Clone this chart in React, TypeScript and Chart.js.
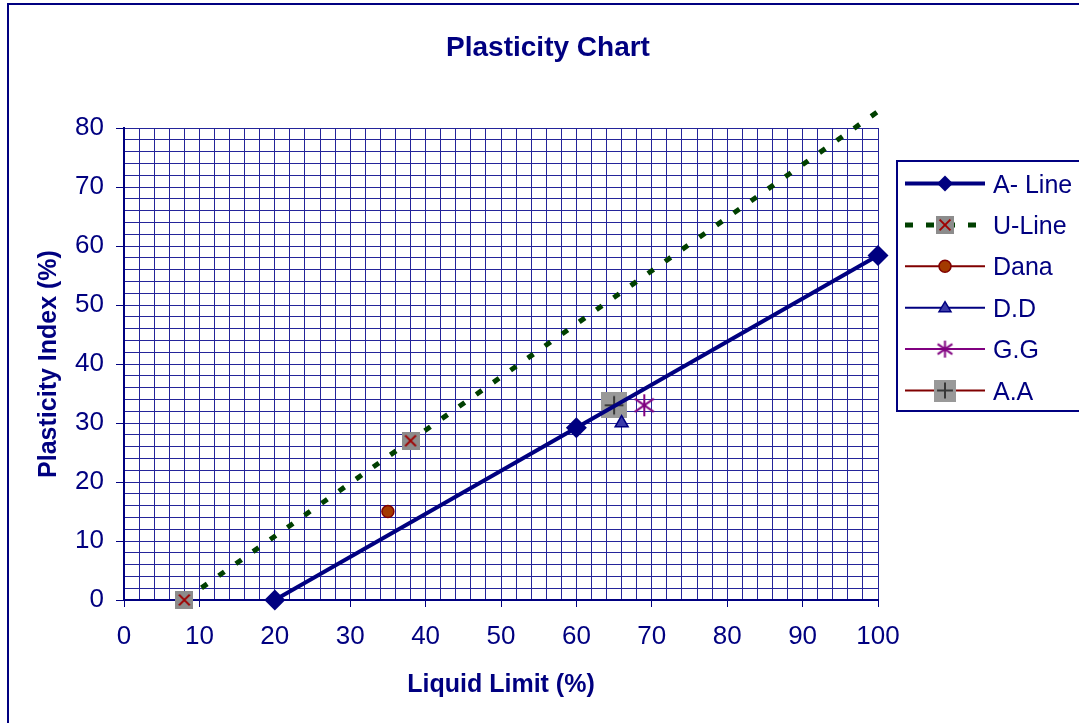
import React, { useEffect, useRef } from 'react';
import { Chart, registerables } from 'chart.js';

Chart.register(...registerables);

const NAVY = '#000080';
const GRID = '#24249a';
const FONT = "'Liberation Sans', Arial, sans-serif";

const titleText = 'Plasticity Chart';
const xTitle = 'Liquid Limit (%)';
const yTitle = 'Plasticity Index (%)';

const seriesNames = ['A- Line', 'U-Line', 'Dana', 'D.D', 'G.G', 'A.A'];

const aLineLL = [20, 60, 100];
const aLinePI = [0, 29.2, 58.4];
const uLineLL = [8, 38, 100];
const uLinePI = [0, 27, 82.8];
const danaLL = [35];
const danaPI = [15];
const ddLL = [66];
const ddPI = [30];
const ggLL = [69];
const ggPI = [33];
const aaLL = [65];
const aaPI = [33];

const xTickLabels = [0, 10, 20, 30, 40, 50, 60, 70, 80, 90, 100];
const yTickLabels = [0, 10, 20, 30, 40, 50, 60, 70, 80];

const pts = (xs: number[], ys: number[]) => xs.map((x, i) => ({ x, y: ys[i] }));

function makeCanvas(size: number, draw: (c: CanvasRenderingContext2D, s: number) => void) {
  const cv = document.createElement('canvas');
  cv.width = size;
  cv.height = size;
  const c = cv.getContext('2d')!;
  draw(c, size);
  return cv;
}

const uMarker = (s: number) =>
  makeCanvas(s, (c, n) => {
    c.fillStyle = '#8c8c8c';
    c.fillRect(0, 0, n, n);
    c.strokeStyle = '#a00000';
    c.lineWidth = 2;
    const i = n * 0.2;
    c.beginPath();
    c.moveTo(i, i);
    c.lineTo(n - i, n - i);
    c.moveTo(n - i, i);
    c.lineTo(i, n - i);
    c.stroke();
  });

const aaMarker = (s: number) =>
  makeCanvas(s, (c, n) => {
    c.fillStyle = '#999999';
    c.fillRect(0, 0, n, n);
    c.strokeStyle = '#383838';
    c.lineWidth = 2;
    const i = n * 0.14;
    c.beginPath();
    c.moveTo(i, n / 2);
    c.lineTo(n - i, n / 2);
    c.moveTo(n / 2, i);
    c.lineTo(n / 2, n - i);
    c.stroke();
  });

const starMarker = (s: number) =>
  makeCanvas(s, (c, n) => {
    c.strokeStyle = '#800080';
    c.lineWidth = 2;
    const m = n / 2;
    const r = n / 2 - 1;
    c.beginPath();
    c.moveTo(m, m - r);
    c.lineTo(m, m + r);
    const dx = r * Math.cos(Math.PI / 6);
    const dy = r * Math.sin(Math.PI / 6) * 1.2;
    c.moveTo(m - dx, m - dy);
    c.lineTo(m + dx, m + dy);
    c.moveTo(m - dx, m + dy);
    c.lineTo(m + dx, m - dy);
    c.stroke();
  });

export default function App() {
  const ref = useRef<HTMLCanvasElement>(null);

  useEffect(() => {
    if (!ref.current) return;
    const uImg = uMarker(18);
    const aaImg = aaMarker(26);
    const ggImg = starMarker(24);
    const uLeg = uMarker(18);
    const aaLeg = aaMarker(22);
    const ggLeg = starMarker(19);

    const overlay = {
      id: 'overlay',
      afterDraw(chart: any) {
        const ctx: CanvasRenderingContext2D = chart.ctx;
        const { left, right, top, bottom } = chart.chartArea;
        ctx.save();
        // outer border
        ctx.fillStyle = NAVY;
        ctx.fillRect(7, 3, 2, 723);
        ctx.fillRect(7, 3, 1079, 2);
        // title
        ctx.fillStyle = NAVY;
        ctx.font = `bold 28px ${FONT}`;
        ctx.textAlign = 'center';
        ctx.textBaseline = 'alphabetic';
        ctx.fillText(titleText, 548, 56);
        // axis titles
        ctx.font = `bold 25px ${FONT}`;
        ctx.fillText(xTitle, (left + right) / 2, 692);
        ctx.save();
        ctx.translate(56, (top + bottom) / 2);
        ctx.rotate(-Math.PI / 2);
        ctx.fillText(yTitle, 0, 0);
        ctx.restore();

        // legend
        ctx.strokeStyle = NAVY;
        ctx.lineWidth = 2;
        ctx.strokeRect(897, 161, 300, 250);
        const x0 = 905, x1 = 985, mx = 945;
        const rowY = (i: number) => 183.5 + i * 41.4;
        const line = (y: number, color: string, w: number, dash: number[] = []) => {
          ctx.save();
          ctx.strokeStyle = color;
          ctx.lineWidth = w;
          ctx.setLineDash(dash);
          ctx.lineCap = 'butt';
          ctx.beginPath();
          ctx.moveTo(x0, y);
          ctx.lineTo(x1, y);
          ctx.stroke();
          ctx.restore();
        };
        const img = (cv: HTMLCanvasElement, y: number) => {
          ctx.drawImage(cv, mx - cv.width / 2, y - cv.height / 2);
        };
        // A-Line
        let y = rowY(0);
        line(y, NAVY, 4);
        ctx.fillStyle = NAVY;
        ctx.beginPath();
        ctx.moveTo(mx, y - 8);
        ctx.lineTo(mx + 8, y);
        ctx.lineTo(mx, y + 8);
        ctx.lineTo(mx - 8, y);
        ctx.closePath();
        ctx.fill();
        // U-Line
        y = rowY(1);
        line(y, '#004000', 5, [8, 13]);
        img(uLeg, y);
        // Dana
        y = rowY(2);
        line(y, '#800000', 2);
        ctx.beginPath();
        ctx.arc(mx, y, 6, 0, Math.PI * 2);
        ctx.fillStyle = '#a33a00';
        ctx.fill();
        ctx.strokeStyle = '#800000';
        ctx.lineWidth = 1.5;
        ctx.stroke();
        // D.D
        y = rowY(3);
        line(y, NAVY, 2);
        ctx.beginPath();
        ctx.moveTo(mx, y - 6);
        ctx.lineTo(mx + 6, y + 4);
        ctx.lineTo(mx - 6, y + 4);
        ctx.closePath();
        ctx.fillStyle = '#3c3ca8';
        ctx.fill();
        ctx.strokeStyle = NAVY;
        ctx.lineWidth = 1.5;
        ctx.stroke();
        // G.G
        y = rowY(4);
        line(y, '#800080', 2);
        img(ggLeg, y);
        // A.A
        y = rowY(5);
        line(y, '#800000', 2);
        img(aaLeg, y);

        ctx.fillStyle = NAVY;
        ctx.font = `25px ${FONT}`;
        ctx.textAlign = 'left';
        ctx.textBaseline = 'alphabetic';
        seriesNames.forEach((n, i) => ctx.fillText(n, 993, rowY(i) + 9));
        ctx.restore();
      },
    };

    const tickColor = (ctx: any) =>
      Math.round(ctx.tick?.value ?? 1) % 10 === 0 ? NAVY : 'rgba(0,0,0,0)';

    const chart = new Chart(ref.current, {
      type: 'line',
      data: {
        datasets: [
          {
            label: seriesNames[0],
            data: pts(aLineLL, aLinePI),
            borderColor: NAVY,
            backgroundColor: NAVY,
            borderWidth: 4,
            pointStyle: 'rectRot',
            pointRadius: 10.5,
            pointBorderWidth: 0,
            clip: false,
          } as any,
          {
            label: seriesNames[1],
            data: pts(uLineLL, uLinePI),
            borderColor: '#004000',
            borderWidth: 5,
            borderDash: [7, 14],
            borderCapStyle: 'butt',
            pointStyle: uImg,
            pointRadius: [9, 9, 0],
            clip: false,
          },
          {
            label: seriesNames[2],
            data: pts(danaLL, danaPI),
            borderColor: '#800000',
            backgroundColor: '#a33a00',
            pointStyle: 'circle',
            pointRadius: 6,
            pointBorderWidth: 1.5,
            showLine: false,
            clip: false,
          },
          {
            label: seriesNames[3],
            data: pts(ddLL, ddPI),
            borderColor: NAVY,
            backgroundColor: '#3c3ca8',
            pointStyle: 'triangle',
            pointRadius: 7.5,
            pointBorderWidth: 1.5,
            showLine: false,
            clip: false,
          },
          {
            label: seriesNames[4],
            data: pts(ggLL, ggPI),
            borderColor: '#800080',
            pointStyle: ggImg,
            pointRadius: 12,
            showLine: false,
            clip: false,
          },
          {
            label: seriesNames[5],
            data: pts(aaLL, aaPI),
            borderColor: '#800000',
            pointStyle: aaImg,
            pointRadius: 13,
            showLine: false,
            clip: false,
          },
        ],
      },
      options: {
        responsive: false,
        animation: false,
        events: [],
        layout: { padding: { left: 0, top: 128, right: 201, bottom: 0 } },
        plugins: {
          legend: { display: false },
          title: { display: false },
          tooltip: { enabled: false },
        },
        scales: {
          x: {
            type: 'linear',
            min: 0,
            max: 100,
            afterFit: (s: any) => {
              s.height = 123;
            },
            border: { color: NAVY, width: 2 },
            grid: { color: GRID, lineWidth: 1, tickLength: 7, tickColor },
            ticks: {
              stepSize: 2,
              autoSkip: false,
              maxRotation: 0,
              padding: 14,
              color: NAVY,
              font: { family: FONT, size: 26 },
              callback: (v: any) => {
                const n = Math.round(Number(v));
                return xTickLabels.includes(n) ? String(n) : '';
              },
            },
          },
          y: {
            type: 'linear',
            min: 0,
            max: 80,
            afterFit: (s: any) => {
              s.width = 124;
            },
            border: { color: NAVY, width: 2 },
            grid: { color: GRID, lineWidth: 1, tickLength: 8, tickColor },
            ticks: {
              stepSize: 2,
              autoSkip: false,
              padding: 12,
              color: NAVY,
              font: { family: FONT, size: 26 },
              callback: (v: any) => {
                const n = Math.round(Number(v));
                return yTickLabels.includes(n) ? String(n) : '';
              },
            },
          },
        },
      } as any,
      plugins: [overlay],
    });
    return () => chart.destroy();
  }, []);

  return (
    <div style={{ position: 'absolute', left: 0, top: 0, width: 1079, height: 723, background: '#fff' }}>
      <canvas ref={ref} width={1079} height={723} />
    </div>
  );
}
